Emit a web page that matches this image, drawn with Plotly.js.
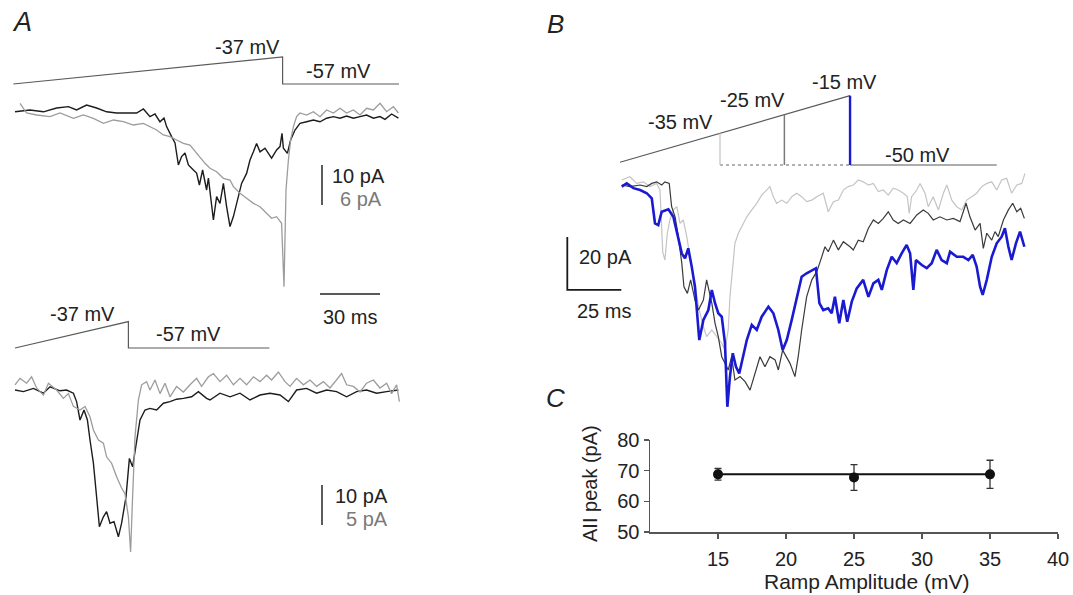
<!DOCTYPE html>
<html><head><meta charset="utf-8">
<script src="https://cdn.plot.ly/plotly-3.0.1.min.js"></script>
<style>html,body{margin:0;padding:0;background:#fff}#plot{width:1073px;height:595px}</style>
</head><body><div id="plot"></div>
<script>
// ---------- DATA ----------
// Panel A, top: command ramp (ms, mV)
const vAtopT = [-0.35, 134.3, 134.3, 192.5];
const vAtopV = [-57, -37, -57, -57];
// Panel A, top: black trace (ms, pA; scale 10 pA)
const tAtopBlack = [0.5,8,14.7,21.3,27.2,31.3,36.3,41.3,46.3,51.3,57.2,61.3,64.7,68,70.5,73,75,76.3,78.8,80.5,82.2,83.8,85.5,87.2,89.7,91.3,92.7,94.3,96.3,97.2,99.7,101.3,103,104.7,106.3,108,109.7,111.7,113.8,116.3,118,119.7,121.3,123,125.5,127.2,128.8,131.3,133,134,134.7,136.7,138.3,140.5,143,146.3,149.7,153,156.3,159.7,163,166.3,169.7,173,176.3,179.7,183,185.5,188.8,192.2];
const iAtopBlack = [0.3,0.75,0.3,1.25,1.6,0.75,2.0,1.25,0.3,0,0,0,1.0,-0.9,-0.25,-2.2,-1.25,-3.4,-5.9,-7.5,-13,-10.9,-10,-13,-14.25,-15,-18,-14.25,-19.25,-16.3,-26.75,-20.9,-22.6,-17.6,-23.4,-28.4,-25.9,-21.75,-17.6,-15.1,-11.75,-9.7,-7.6,-9.7,-8.8,-10.1,-11.3,-9.25,-8.4,-5.1,-8.8,-10.1,-6.75,-4.25,-2.6,-2.2,-1.75,-2.2,-1.3,-0.9,-1.3,-0.75,-1.3,-0.9,-0.5,-1.3,-0.9,-1.6,-0.25,-1.3];
// Panel A, top: gray trace (ms, pA; scale 6 pA)
const tAtopGray = [3,6.3,11.3,18,23,29.7,34.7,39.7,44.7,49.7,54.7,59.7,64.7,68,71.3,74.7,78,81.3,84.7,88,91.3,93,95.5,98,101.3,104.7,108,109.7,113,116.3,119.7,123,126.3,128.8,131.3,133.8,135,136,137.2,138.3,139.7,141.3,143,146.3,149.7,153,156.3,159.7,163,166.3,169.7,173,176.3,179.7,183,186.3,189.7,192.2];
const iAtopGray = [1.45,0,-0.3,-0.55,0,-0.8,-0.3,-0.8,-1.55,-1.05,-1.3,-1.8,-1.55,-2.05,-2.55,-3.3,-3.55,-4.05,-4.55,-4.8,-6.05,-6.55,-7.55,-8.3,-8.8,-9.8,-10.05,-11.05,-12.05,-12.8,-13.55,-14.05,-15.05,-15.8,-15.55,-16.55,-26.05,-11.55,-7.05,-4.05,-2.05,-0.55,0,-0.3,0.2,-0.55,0.45,0,0.7,0,0.45,-0.3,0.7,0.45,1.45,0.2,0.95,0];
// Panel A, bottom: command ramp (ms, mV)
const vAbotT = [0.5, 57.2, 57.2, 127.7];
const vAbotV = [-57, -37, -57, -57];
// Panel A, bottom: black trace (ms, pA; scale 10 pA)
const tAbotBlack = [0.5,4.7,9.7,14.7,18,23,26.3,29.7,31.3,33,35,36.7,38,39.7,41.3,42.7,44.7,46.3,48,50,52.2,53.8,56,57.7,59.3,61,63,65.5,68,71.3,74.7,78,81.3,84.7,88.8,92.2,96.3,98,103,108,113,118,123,128,133,137.2,141.3,146.3,151.3,156.3,161.3,166.3,171.3,176.3,181.3,186.3,192.2];
const iAbotBlack = [-0.5,-0.9,-0.1,-1.3,0.3,-0.7,-0.5,-1.3,-3.4,-8,-5.5,-8,-13,-18.8,-27.2,-34.7,-32.2,-30.9,-33.8,-33.4,-37.2,-33.8,-27.2,-17.6,-19.7,-13.8,-8,-5.5,-5.1,-5.5,-3.8,-3.4,-2.8,-2.6,-2.2,-0.9,-2.6,-3,-1.3,-2.2,-1.3,-3,-1.75,-1.3,-1.75,-3.4,-0.5,-0.1,-1.3,-0.5,-0.9,-2.2,-0.9,-0.5,-1.3,-0.9,-0.5];
// Panel A, bottom: gray trace (ms, pA; scale 5 pA)
const tAbotGray = [0.5,3,6.3,8.8,11.3,14.7,17.2,21.3,24.7,27.2,29.7,33,35.5,38,39.7,42.2,44.7,46.3,48.8,51.3,53.8,55.5,57.2,58.3,59.3,60.5,62.2,63.8,66.3,68,70.5,73,75.5,78,81.3,84.7,88,91.3,93.8,97.2,99.7,103,106.3,109.7,113,116.3,119.7,123,126.3,128.8,132.2,135.5,138,141.3,144.7,148,151.3,154.7,158,161.3,163.8,166.3,169.7,173,176.3,179.7,183,186.3,188.8,191.3,192.7];
const iAbotGray = [0.4,1.2,0.6,1.4,0,-0.9,0.6,-0.25,-1.3,-0.7,-2.3,-2.75,-2.3,-3.6,-5.25,-6.5,-6.9,-8.6,-9.4,-11.1,-12.5,-13.2,-16.1,-20.5,-13.6,-6.1,-1.5,0.4,0.8,-0.25,1.0,-0.7,0.6,-1.1,0.2,-0.5,0.4,1.2,0.2,1.4,1.8,0.8,1.6,0.4,1.2,0.4,1.4,0.8,1.6,1.0,2.0,0.8,0.2,1.2,0.4,1.0,0.2,0.8,0,1.0,1.8,0.4,0.2,-0.5,0.6,1.0,0,0.6,-0.7,0.4,-1.7];
// Panel B: command (ms, mV)
const rampBT = [0, 106.5];
const rampBV = [-48.6, -15];
const cutBT = [46.3, 76.1, 106.5];
const cutBV = [-34.0, -24.6, -15];
const holdBV = -50;
const holdBEnd = 174.4;
// Panel B traces (ms, pA)
const tBlight = [0.8,4.6,7.7,10.8,13.9,17.0,18.5,19.8,20.8,21.9,23.1,24.7,26.3,27.8,29.3,30.9,32.4,34.7,36.7,38.6,40.1,42.5,44.8,47.1,48.6,50.1,50.9,52.2,53.2,54.8,56.3,58.7,61.0,63.3,65.6,67.9,69.4,71.0,72.5,74.9,77.2,79.5,81.8,84.1,86.4,88.8,91.1,94.1,96.4,98.8,101.1,103.4,105.7,108.0,110.3,112.6,115.0,117.3,119.6,121.9,124.2,126.5,128.8,131.2,133.0,133.9,135.0,137.4,138.9,141.2,142.7,145.0,147.4,149.7,151.3,153.6,155.9,158.2,160.5,162.8,165.1,167.5,169.8,172.1,174.4,176.7,179.0,181.3,183.7,186.0,187.5];
const iBlight = [1.9,3.1,0.6,1.2,-0.6,0.6,-1.9,-25.4,-28.3,-18.2,-13.2,-9.4,-8.2,-14.5,-13.2,-19.5,-27.1,-37.1,-47.2,-53.5,-57.2,-54.7,-57.2,-59.7,-62.3,-54.7,-42.2,-29.5,-22.0,-18.2,-15.7,-12.0,-9.4,-6.9,-3.8,-1.9,-0.6,-4.4,-6.9,-5.7,-6.9,-4.4,-3.1,-4.4,-6.3,-5.7,-4.4,-3.1,-10.1,-6.3,-5.7,-1.9,-0.6,0,1.9,1.2,0,0.6,-2.5,-1.9,-3.8,-1.2,-1.9,-3.1,-4.4,-10.7,-4.4,-1.9,0.6,-3.1,-8.2,-4.4,-9.4,-3.1,0,-5.7,-8.2,-9.4,-5.7,-4.4,-3.1,-0.6,0.6,1.2,-1.9,1.9,2.5,-3.1,0,0.6,4.4];
const tBdark = [0.8,4.6,9.3,12.4,14.7,17.0,19.3,20.8,22.8,23.9,25.5,27.0,28.6,29.6,31.2,32.7,34.7,36.3,38.6,40.1,42.5,44.0,45.5,47.1,48.6,50.1,51.7,53.2,55.6,57.9,60.2,62.5,64.8,67.1,69.4,71.8,73.3,75.3,77.2,78.7,81.0,82.5,84.1,86.4,88.8,91.1,93.4,94.9,96.4,98.8,101.1,103.4,106.5,108.0,110.3,112.6,115.0,117.3,119.6,121.9,124.2,126.5,128.8,131.2,134.3,137.4,140.4,142.7,145.0,148.1,151.3,154.3,157.4,160.2,162.0,164.4,166.7,168.2,169.8,172.1,173.6,175.1,177.5,179.8,181.8,183.7,185.5,187.2];
const iBdark = [0,-0.6,0,-0.6,0.6,1.2,0,1.2,0.6,-8.2,-12.0,-19.5,-29.5,-38.4,-40.9,-35.8,-43.4,-47.2,-43.4,-35.8,-44.6,-52.2,-57.2,-64.8,-67.3,-69.8,-64.8,-73.6,-72.3,-74.2,-77.4,-71.1,-64.8,-68.6,-64.8,-66.0,-69.8,-62.3,-64.8,-67.3,-72.3,-64.8,-54.7,-42.2,-35.8,-32.7,-27.1,-23.3,-25.2,-20.8,-24.5,-21.4,-23.3,-24.5,-20.8,-21.4,-16.3,-13.2,-14.5,-12.6,-10.1,-13.2,-14.5,-13.2,-14.5,-11.3,-9.4,-10.7,-13.2,-12.0,-13.2,-12.6,-13.8,-6.9,-12.0,-17.0,-14.5,-23.9,-18.2,-20.8,-17.6,-19.5,-13.2,-9.4,-6.9,-10.1,-8.8,-12.6];
const tBblue = [0.8,3.1,6.2,9.3,12.4,14.7,16.2,17.7,19.3,22.4,24.7,26.3,28.6,30.1,31.6,33.2,34.7,36.7,38.6,40.9,42.5,44.0,45.5,47.1,48.6,49.7,50.9,52.2,53.7,55.2,56.8,58.7,61.0,63.3,65.6,68.7,71.0,73.3,75.3,77.2,79.5,81.8,84.1,86.4,88.8,90.7,92.3,94.1,96.4,98.0,99.5,101.5,103.4,105.2,107.3,109.6,112.6,115.0,117.3,119.6,121.2,123.5,125.8,128.1,130.4,132.7,134.3,135.8,137.0,139.7,142.0,144.3,146.6,148.9,151.3,152.8,155.9,158.9,161.3,163.3,165.1,166.7,167.9,169.8,172.1,174.4,176.7,178.2,179.8,181.3,183.3,185.2,187.2];
const iBblue = [-0.6,0.6,-1.2,-1.9,-3.1,-5.0,-14.5,-15.1,-10.1,-9.2,-12.0,-18.2,-25.8,-27.7,-23.9,-30.8,-38.4,-58.5,-50.9,-47.2,-39.6,-44.6,-48.4,-49.7,-59.7,-83.7,-72.3,-63.5,-68.6,-71.1,-64.8,-58.5,-52.8,-54.7,-49.7,-45.9,-48.4,-54.7,-62.3,-58.5,-50.9,-42.2,-34.6,-33.3,-32.1,-31.4,-44.6,-47.2,-46.5,-48.4,-42.2,-52.2,-43.4,-51.6,-44.0,-39.0,-35.8,-42.2,-37.1,-35.8,-39.6,-32.1,-27.1,-29.5,-25.8,-22.6,-25.8,-39.6,-28.3,-30.2,-31.4,-29.5,-24.5,-28.3,-29.5,-25.2,-27.1,-27.1,-28.3,-26.4,-30.8,-38.4,-41.5,-35.8,-27.1,-22.0,-19.5,-16.3,-23.3,-28.3,-22.0,-17.6,-23.3];
// Scale bar sizes
const sbAms = 30, sbApA = 10, sbBms = 25, sbBpA = 20;
// Panel C
const rampAmp = [15, 25, 35];
const peakPA = [68.8, 67.8, 68.8];
const peakErr = [1.9, 4.2, 4.6];
const fitX = [15, 35];
const fitY = [68.8, 68.8];
const cTicksX = [15, 20, 25, 30, 35, 40];
const cTicksY = [50, 60, 70, 80];

// ---------- LAYOUT HELPERS ----------
const W = 1073, H = 595;
const fx = (a, b) => [a / W, b / W];
const fy = (top, bot) => [1 - bot / H, 1 - top / H];
const FONT = 'Liberation Sans, Arial, Helvetica, sans-serif';
const hid = (o) => Object.assign({visible: false, fixedrange: true, autorange: false, showgrid: false, zeroline: false}, o);

const BLK = '#1c1c1c', GRY = '#9c9c9c', CMD = '#5a5a5a', BLUE = '#1a1ad0';
const traces = [];
function line(x, y, xa, ya, color, width, dash) {
  traces.push({type: 'scatter', mode: 'lines', x: x, y: y, xaxis: xa, yaxis: ya,
    line: {color: color, width: width, dash: dash || 'solid'}, hoverinfo: 'skip', showlegend: false});
}

// Panel A top
line(vAtopT, vAtopV, 'x', 'y', CMD, 1.2);
line(tAtopGray, iAtopGray, 'x', 'y3', GRY, 1.3);
line(tAtopBlack, iAtopBlack, 'x', 'y2', BLK, 1.4);
// scale bars A top (positions)
const sbAt = {t: 154, i: -13, hi: -45.25, ht: 153};
line([sbAt.t, sbAt.t], [sbAt.i, sbAt.i - sbApA], 'x', 'y2', '#333', 1.6);
line([sbAt.ht, sbAt.ht + sbAms], [sbAt.hi, sbAt.hi], 'x', 'y2', '#222', 1.6);
// Panel A bottom
line(vAbotT, vAbotV, 'x', 'y4', CMD, 1.2);
line(tAbotGray, iAbotGray, 'x', 'y6', GRY, 1.3);
line(tAbotBlack, iAbotBlack, 'x', 'y5', BLK, 1.4);
const sbAb = {t: 154, i: -24.25};
line([sbAb.t, sbAb.t], [sbAb.i, sbAb.i - sbApA], 'x', 'y5', '#333', 1.6);

// Panel B command
line([rampBT[0], rampBT[1]], [rampBV[0], rampBV[1]], 'x2', 'y7', CMD, 1.2);
line([cutBT[0], cutBT[2]], [holdBV, holdBV], 'x2', 'y7', '#666', 1.1, '3px,3px');
line([cutBT[2], holdBEnd], [holdBV, holdBV], 'x2', 'y7', CMD, 1.2);
line([cutBT[0], cutBT[0]], [holdBV, cutBV[0]], 'x2', 'y7', '#c2c2c2', 1.2);
line([cutBT[1], cutBT[1]], [holdBV, cutBV[1]], 'x2', 'y7', '#7a7a7a', 1.5);
line([cutBT[2], cutBT[2]], [holdBV, cutBV[2]], 'x2', 'y7', BLUE, 2.4);
// Panel B traces
line(tBlight, iBlight, 'x2', 'y8', '#c4c4c4', 1.2);
line(tBdark, iBdark, 'x2', 'y8', '#3a3a3a', 1.2);
line(tBblue, iBblue, 'x2', 'y8', BLUE, 2.6);
// scale bar B
const sbB = {t: -24.4, i: -39.6};
line([sbB.t, sbB.t, sbB.t + sbBms], [sbB.i + sbBpA, sbB.i, sbB.i], 'x2', 'y8', '#1a1a1a', 1.8);

// Panel C
traces.push({type: 'scatter', mode: 'lines', x: fitX, y: fitY, xaxis: 'x3', yaxis: 'y9',
  line: {color: '#111', width: 2}, hoverinfo: 'skip', showlegend: false});
traces.push({type: 'scatter', mode: 'markers', x: rampAmp, y: peakPA, xaxis: 'x3', yaxis: 'y9',
  marker: {color: '#111', size: 10},
  error_y: {type: 'data', array: peakErr, visible: true, color: '#333', thickness: 1.3, width: 3.5},
  hoverinfo: 'skip', showlegend: false});

// ---------- ANNOTATIONS ----------
const anns = [];
function ann(text, x, y, o) {
  anns.push(Object.assign({text: text, xref: 'paper', yref: 'paper', x: x / W, y: 1 - y / H,
    xanchor: 'center', yanchor: 'middle', showarrow: false,
    font: {family: FONT, size: 20, color: '#222'}}, o || {}));
}
const italic = (s) => '<i>' + s + '</i>';
ann(italic('A'), 22, 22, {font: {family: FONT, size: 27, color: '#222'}});
ann('-37 mV', 247, 47);
ann('-57 mV', 338, 71);
ann('10 pA', 330, 176, {xanchor: 'left'});
ann('6 pA', 361, 199, {font: {family: FONT, size: 20, color: '#7a7a7a'}});
ann('30 ms', 350, 317);
ann('-37 mV', 82, 314);
ann('-57 mV', 188, 334);
ann('10 pA', 361, 496);
ann('5 pA', 367, 519, {font: {family: FONT, size: 20, color: '#7a7a7a'}});
ann(italic('B'), 555, 24, {font: {family: FONT, size: 26, color: '#222'}});
ann('-15 mV', 844, 82.5);
ann('-25 mV', 752, 99.7);
ann('-35 mV', 680, 122);
ann('-50 mV', 917, 155);
ann('20 pA', 605, 257);
ann('25 ms', 604, 311);
ann(italic('C'), 555, 398, {font: {family: FONT, size: 26, color: '#222'}});
ann('AII peak (pA)', 590, 484, {textangle: -90, font: {family: FONT, size: 20, color: '#222'}});
ann('Ramp Amplitude (mV)', 866, 581, {font: {family: FONT, size: 21, color: '#222'}});

const axC = {fixedrange: true, autorange: false, showgrid: false, zeroline: false,
  showline: true, linecolor: '#555', linewidth: 1.5, ticks: 'outside', ticklen: 5,
  tickwidth: 1.5, tickcolor: '#555', tickfont: {family: FONT, size: 20, color: '#222'}};

const layout = {
  width: W, height: H, margin: {l: 0, r: 0, t: 0, b: 0},
  paper_bgcolor: '#fff', plot_bgcolor: 'rgba(0,0,0,0)', showlegend: false,
  font: {family: FONT},
  xaxis: hid({domain: fx(0, 420), range: [-7, 203], anchor: 'y'}),
  yaxis: hid({domain: fy(50, 90), range: [-61.44, -31.81], anchor: 'x'}),
  yaxis2: hid({domain: fy(95, 300), range: [-46.75, 4.5], anchor: 'x'}),
  yaxis3: hid({domain: fy(95, 300), range: [-28.05, 2.7], anchor: 'x'}),
  yaxis4: hid({domain: fy(315, 352), range: [-60.03, -32], anchor: 'x'}),
  yaxis5: hid({domain: fy(370, 560), range: [-43, 4.5], anchor: 'x'}),
  yaxis6: hid({domain: fy(370, 560), range: [-21.5, 2.25], anchor: 'x'}),
  xaxis2: hid({domain: fx(560, 1030), range: [-27.78, 189.81], anchor: 'y7'}),
  yaxis7: hid({domain: fy(85, 172), range: [-53.54, -9.6], anchor: 'x2'}),
  yaxis8: hid({domain: fy(170, 415), range: [-86.79, 5.66], anchor: 'x2'}),
  xaxis3: Object.assign({}, axC, {domain: fx(650, 1058), range: [10, 40], anchor: 'y9',
    tickmode: 'array', tickvals: cTicksX, ticktext: cTicksX.map(String), ticklabelstandoff: 3}),
  yaxis9: Object.assign({}, axC, {domain: fy(440, 532), range: [50, 80], anchor: 'x3',
    tickmode: 'array', tickvals: cTicksY, ticktext: cTicksY.map(String)}),
  annotations: anns
};
Plotly.newPlot('plot', traces, layout, {staticPlot: true, displayModeBar: false});
</script></body></html>
